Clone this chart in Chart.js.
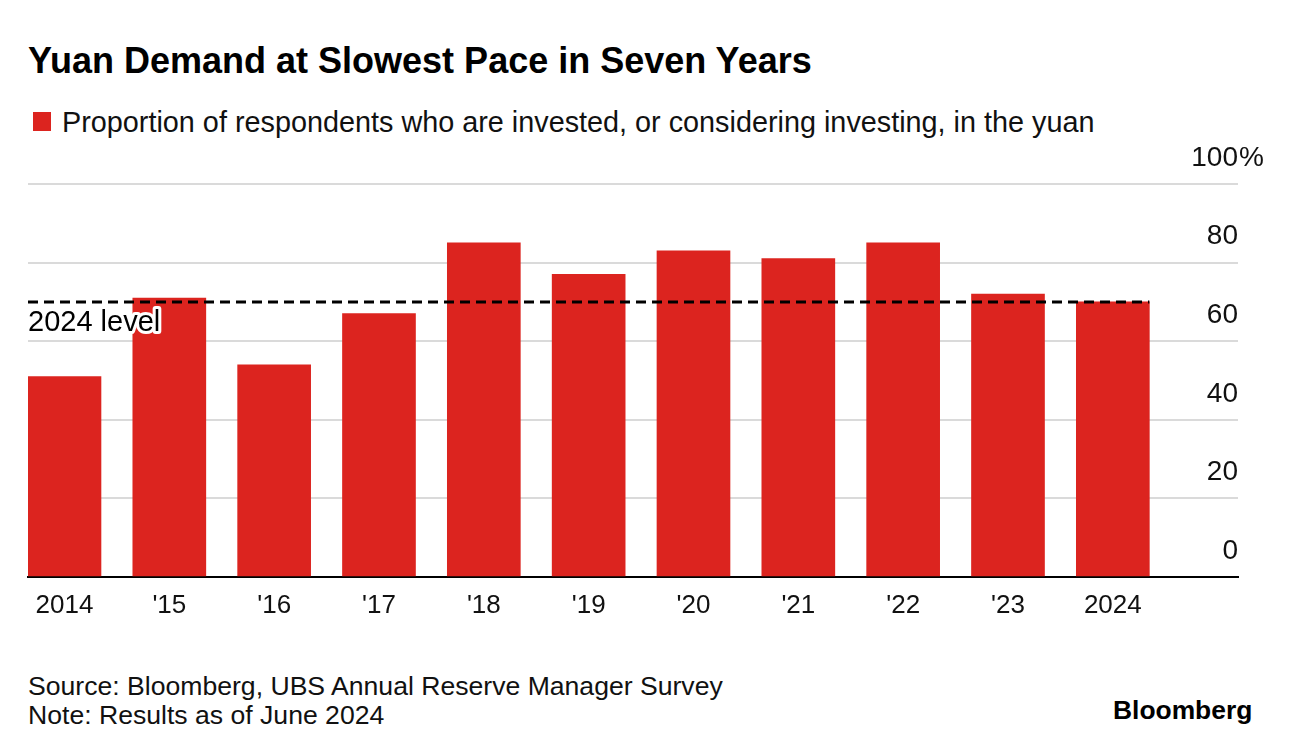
<!DOCTYPE html>
<html>
<head>
<meta charset="utf-8">
<script src="https://cdn.jsdelivr.net/npm/chart.js@4.4.1/dist/chart.umd.min.js"></script>
<style>
  body { margin: 0; width: 1292px; height: 754px; background: #fff; position: relative; overflow: hidden;
         font-family: "Liberation Sans", Arial, sans-serif; color: #000; }
  #title { position: absolute; left: 28px; top: 43px; font-size: 36px; line-height: 36px; font-weight: bold; }
  #legend { position: absolute; left: 62px; top: 108px; font-size: 28.8px; line-height: 29px; color: #111; white-space: nowrap; }
  #legend span { position: absolute; left: -29px; top: 4px; width: 18px; height: 19px; background: #dc241f; }
  #wrap { position: absolute; left: 0; top: 140px; width: 1292px; height: 500px; }
  #notes { position: absolute; left: 28px; top: 672px; font-size: 26.6px; line-height: 29px; color: #111; }
  #logo { position: absolute; left: 1113px; top: 697px; font-size: 26.4px; line-height: 26px; font-weight: bold; }
</style>
</head>
<body>
<div id="title">Yuan Demand at Slowest Pace in Seven Years</div>
<div id="legend"><span></span>Proportion of respondents who are invested, or considering investing, in the yuan</div>
<div id="wrap"><canvas id="myChart"></canvas></div>
<div id="notes">Source: Bloomberg, UBS Annual Reserve Manager Survey<br>Note: Results as of June 2024</div>
<div id="logo">Bloomberg</div>
<script>
var years = ['2014', "'15", "'16", "'17", "'18", "'19", "'20", "'21", "'22", "'23", '2024'];
var share = [51, 71, 54, 67, 85, 77, 83, 81, 85, 72, 70];
var yTicks = [0, 20, 40, 60, 80, 100];

var red = '#dc241f';
var font = '"Liberation Sans", Arial, sans-serif';

// dashed "2024 level" line + label, and the % after 100
var levelLine = {
    id: 'levelLine',
    afterDatasetsDraw: function(chart) {
        var c = chart.ctx, x = chart.scales.x, y = chart.scales.y;
        var level = share[share.length - 1];
        var py = y.getPixelForValue(level);
        var right = x.getPixelForValue(share.length - 1) + 36.5;
        c.save();
        c.strokeStyle = '#000';
        c.lineWidth = 3;
        c.setLineDash([10, 6]);
        c.beginPath();
        c.moveTo(chart.chartArea.left, py);
        c.lineTo(right, py);
        c.stroke();
        c.setLineDash([]);
        c.font = '29px ' + font;
        c.textBaseline = 'alphabetic';
        c.lineJoin = 'round';
        c.strokeStyle = '#fff';
        c.lineWidth = 6;
        c.strokeText('2024 level', chart.chartArea.left, py + 29);
        c.fillStyle = '#000';
        c.fillText('2024 level', chart.chartArea.left, py + 29);
        c.restore();
    },
    afterDraw: function(chart) {
        var c = chart.ctx, y = chart.scales.y;
        c.save();
        c.font = '28px ' + font;
        c.fillStyle = '#111';
        c.textBaseline = 'middle';
        c.fillText('%', chart.chartArea.right + 1, y.getPixelForValue(100) - 26);
        c.restore();
    }
};

document.addEventListener("DOMContentLoaded", function(){
    var ctx = document.getElementById('myChart').getContext('2d');
    var chart = new Chart(ctx, {
        type: 'bar',
        data: {
            datasets: [{
                label: 'Proportion of respondents who are invested, or considering investing, in the yuan',
                backgroundColor: red,
                borderWidth: 0,
                barThickness: 73,
                data: share.map(function(v, i){ return {x: i, y: v}; })
            }]
        },
        options: {
            responsive: true,
            maintainAspectRatio: false,
            animation: false,
            layout: { padding: { left: 28, right: 54, top: 44, bottom: 0 } },
            plugins: { legend: { display: false }, tooltip: { enabled: false } },
            scales: {
                x: {
                    type: 'linear',
                    offset: false,
                    min: -0.348,
                    max: 11.194,
                    grid: { display: false },
                    border: { display: true, color: '#000', width: 2 },
                    afterBuildTicks: function(s){ s.ticks = years.map(function(_, i){ return {value: i}; }); },
                    afterFit: function(s){ s.height = 63; },
                    ticks: {
                        autoSkip: false,
                        maxRotation: 0,
                        padding: 5,
                        color: '#111',
                        font: { family: font, size: 26 },
                        callback: function(v){ return years[v]; }
                    }
                },
                y: {
                    position: 'right',
                    min: 0,
                    max: 100,
                    afterBuildTicks: function(s){ s.ticks = yTicks.map(function(v){ return {value: v}; }); },
                    afterFit: function(s){ s.width = 0; },
                    grid: {
                        drawTicks: false,
                        lineWidth: 2,
                        color: function(c){ return c.tick && c.tick.value === 0 ? '#000' : '#dadada'; }
                    },
                    border: { display: false },
                    ticks: {
                        mirror: true,
                        padding: 0,
                        labelOffset: -26,
                        color: '#111',
                        font: { family: font, size: 28 },
                        callback: function(v){ return v; }
                    }
                }
            }
        },
        plugins: [levelLine]
    });
});
</script>
</body>
</html>
